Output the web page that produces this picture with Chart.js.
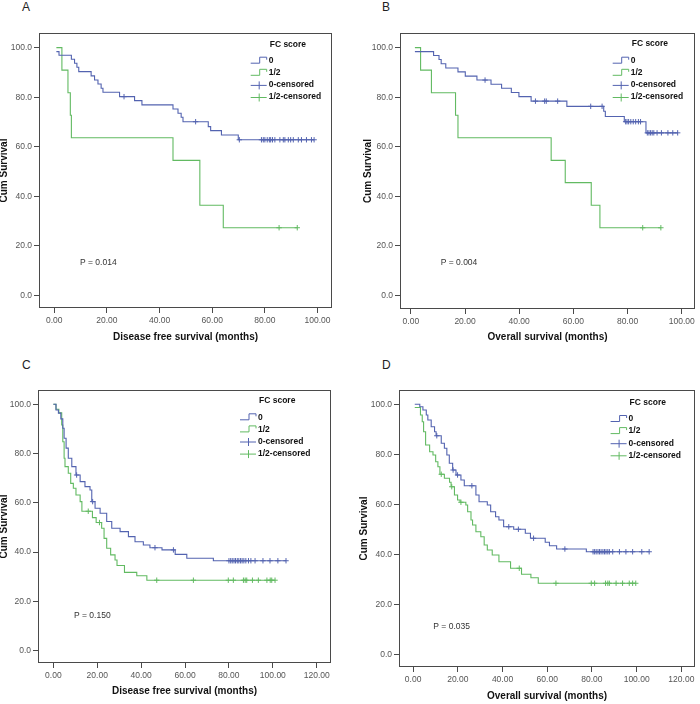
<!DOCTYPE html>
<html>
<head>
  <script src="https://cdn.jsdelivr.net/npm/chart.js@4"></script>
  <style>
    body { margin: 0; background: #fff; }
    #wrap { position: relative; width: 700px; height: 704px; overflow: hidden; background: #fff; }
    canvas { position: absolute; }
    .tag { position: absolute; font: 12px 'Liberation Sans', Arial, sans-serif; line-height: 1; color: #222; }
  </style>
</head>
<body>
<div id="wrap">
  <div class="tag" style="left:22px;top:1px">A</div>
  <div class="tag" style="left:382px;top:1px">B</div>
  <div class="tag" style="left:22px;top:359px">C</div>
  <div class="tag" style="left:382px;top:359px">D</div>
  <canvas id="chartA" style="left:0;top:0" width="350" height="350"></canvas>
  <canvas id="chartB" style="left:350px;top:0" width="350" height="350"></canvas>
  <canvas id="chartC" style="left:0;top:350px" width="350" height="354"></canvas>
  <canvas id="chartD" style="left:350px;top:350px" width="350" height="354"></canvas>
</div>

<script>
  // Data: event times (months) and cumulative survival (%) after each event,
  // plus censored times, for FC score 0 and FC score 1/2

  // Panel A - disease free survival
  var aTimes0 = [0.8, 1.8, 6.5, 7.7, 8.6, 9.3, 14.0, 15.3, 16.6, 17.8, 18.5, 24.8, 30.5, 33.3, 45.1, 47.0, 48.2, 48.9, 58.5, 59.4, 63.5, 69.9];
  var aSurv0 = [98.4, 96.9, 95.3, 93.7, 92.1, 90.3, 88.6, 86.9, 85.3, 83.6, 82.0, 80.2, 78.6, 76.9, 75.2, 73.5, 71.9, 70.1, 68.1, 66.5, 64.7, 62.8];
  var aCens0 = [26.5, 53.7, 70.3, 78.7, 79.4, 80.0, 80.9, 81.7, 82.2, 82.9, 83.8, 85.7, 87.0, 87.6, 88.9, 89.8, 90.8, 92.7, 93.9, 95.8, 97.7, 98.7];
  var aTimes12 = [0.8, 2.9, 5.2, 6.1, 6.5, 45.1, 55.3, 64.2];
  var aSurv12 = [100, 90.9, 81.8, 72.7, 63.6, 54.5, 36.4, 27.3];
  var aCens12 = [85.4, 92.3];

  // Panel B - overall survival
  var bTimes0 = [1.5, 8.4, 10.4, 11.2, 12.9, 17.4, 20.1, 24.4, 29.6, 33.5, 37.1, 39.9, 44.4, 57.6, 71.2, 71.8, 78.8, 86.8];
  var bSurv0 = [98.4, 96.8, 95.2, 93.5, 91.8, 90.2, 88.5, 86.9, 85.2, 83.6, 81.9, 80.2, 78.4, 76.3, 74.3, 72.2, 70.1, 65.6];
  var bCens0 = [27.4, 46.0, 49.4, 50.0, 54.2, 66.4, 70.6, 79.3, 79.8, 80.4, 81.2, 82.1, 83.0, 84.0, 84.8, 87.3, 87.9, 88.5, 89.1, 89.7, 90.9, 92.5, 94.9, 96.7, 98.5];
  var bTimes12 = [1.5, 3.6, 7.6, 16.5, 17.4, 51.8, 57.0, 66.6, 69.8];
  var bSurv12 = [100, 90.9, 81.8, 72.7, 63.6, 54.5, 45.5, 36.4, 27.3];
  var bCens12 = [85.6, 92.3];

  // Panel C - disease free survival
  var cTimes0 = [0, 1.2, 2.3, 3.4, 4.3, 4.9, 5.8, 6.8, 8.4, 10.3, 12.2, 14.4, 16.7, 17.5, 19.0, 21.3, 24.3, 26.6, 30.4, 34.2, 37.2, 41.0, 44.0, 49.5, 55.5, 60.8, 72.9];
  var cSurv0 = [100, 97.7, 96.4, 94.1, 90.3, 86.2, 82.2, 78.1, 74.7, 71.3, 68.6, 66.6, 65.2, 60.5, 57.8, 55.8, 52.4, 49.7, 48.3, 46.3, 44.2, 42.9, 41.8, 40.9, 39.1, 37.5, 36.5];
  var cCens0 = [10.6, 17.9, 46.3, 54.7, 80.0, 80.8, 81.5, 82.3, 83.0, 83.8, 84.5, 85.3, 86.0, 86.8, 87.7, 88.9, 90.0, 91.9, 95.5, 98.7, 102.3, 106.0];
  var cTimes12 = [0, 1.2, 2.5, 3.8, 4.3, 4.9, 5.3, 6.8, 7.9, 9.1, 10.3, 12.2, 13.0, 17.8, 19.5, 22.0, 23.1, 24.3, 26.1, 28.1, 29.0, 32.4, 38.0, 42.6];
  var cSurv12 = [100, 98.0, 96.5, 91.6, 84.8, 78.1, 74.7, 72.0, 67.9, 65.9, 63.2, 60.5, 56.6, 54.0, 52.0, 49.7, 45.6, 41.6, 38.9, 36.8, 34.6, 31.8, 30.4, 28.6];
  var cCens12 = [15.9, 21.0, 47.1, 63.8, 79.7, 82.0, 86.6, 87.4, 88.1, 90.7, 93.4, 97.3, 98.8, 99.5, 101.0];

  // Panel D - overall survival
  var dTimes0 = [0.75, 3.0, 4.4, 5.9, 6.6, 8.1, 9.6, 10.3, 12.6, 14.0, 15.1, 16.2, 17.7, 19.2, 21.4, 22.9, 28.1, 29.5, 33.2, 34.7, 36.9, 38.4, 40.5, 45.0, 50.2, 52.5, 59.1, 61.0, 64.2, 77.5];
  var dSurv0 = [100, 99.0, 97.7, 95.7, 93.7, 91.0, 89.0, 87.4, 84.4, 82.4, 79.7, 76.4, 73.7, 71.7, 69.7, 67.4, 63.7, 61.0, 59.7, 57.0, 55.0, 53.7, 51.0, 50.0, 48.4, 46.4, 44.8, 43.4, 42.1, 41.0];
  var dCens0 = [10.6, 17.9, 19.9, 26.3, 42.8, 47.1, 53.9, 67.9, 80.5, 81.2, 81.9, 82.7, 83.4, 84.1, 84.9, 85.6, 86.3, 87.1, 87.8, 89.3, 92.3, 95.2, 98.2, 102.3, 105.6];
  var dTimes12 = [0.75, 3.3, 4.1, 4.7, 5.6, 7.4, 8.9, 10.1, 11.1, 12.0, 14.0, 16.3, 17.0, 18.5, 19.9, 21.0, 23.6, 24.4, 25.9, 26.6, 28.1, 30.3, 31.8, 33.2, 35.4, 38.4, 43.6, 48.5, 52.7, 56.0];
  var dSurv12 = [98.7, 95.7, 93.0, 89.0, 83.7, 81.0, 79.7, 77.0, 75.0, 72.0, 70.4, 68.8, 67.0, 63.7, 61.7, 60.8, 59.7, 57.0, 53.7, 51.7, 49.0, 47.0, 43.7, 41.7, 39.7, 37.0, 34.4, 32.0, 30.6, 28.4];
  var dCens12 = [12.6, 17.3, 21.4, 47.5, 63.9, 79.7, 81.2, 86.1, 87.1, 87.8, 90.8, 93.7, 96.7, 98.2, 99.6];

  // Tick values and labels
  var yTicks = [0, 20, 40, 60, 80, 100];
  var xTicksAB = [0, 20, 40, 60, 80, 100];
  var xTicksCD = [0, 20, 40, 60, 80, 100, 120];
  var legendTitle = 'FC score';
  var legendLabels = ['0', '1/2', '0-censored', '1/2-censored'];

  var BLUE = '#5363b0';
  var GREEN = '#62ba62';
  var FONT = "'Liberation Sans', Arial, sans-serif";

  // survival value of the step function at time t
  function survAt(times, surv, t) {
    var s = surv[0];
    for (var i = 0; i < times.length; i++) {
      if (times[i] <= t) s = surv[i];
    }
    return s;
  }

  function stepLine(times, surv, cens) {
    var pts = times.map(function(t, i) { return {x: t, y: surv[i]}; });
    var end = Math.max(times[times.length - 1], cens.length ? cens[cens.length - 1] : 0);
    pts.push({x: end, y: surv[surv.length - 1]});
    return pts;
  }

  function censPoints(times, surv, cens) {
    return cens.map(function(t) { return {x: t, y: survAt(times, surv, t)}; });
  }

  // frame, legend and p value
  var panelDecor = {
    id: 'panelDecor',
    afterDraw: function(chart, args, o) {
      var ctx = chart.ctx, a = chart.chartArea;
      ctx.save();
      ctx.strokeStyle = '#4a4a4a';
      ctx.lineWidth = 1;
      ctx.strokeRect(a.left + 0.5, a.top + 0.5, a.right - a.left - 1, a.bottom - a.top - 1);

      ctx.fillStyle = '#333';
      ctx.font = '8.5px ' + FONT;
      ctx.textAlign = 'left';
      ctx.textBaseline = 'middle';
      ctx.fillText(o.pText, a.left + o.pX, a.top + o.pY);

      var lx = a.right - o.legRight;
      ctx.fillStyle = '#111';
      ctx.font = 'bold 8.5px ' + FONT;
      ctx.fillText(legendTitle, lx + 19, a.top + o.legTitle);
      legendLabels.forEach(function(lab, i) {
        var y = a.top + o.legFirst + i * 12.1;
        var col = (i % 2 === 0) ? BLUE : GREEN;
        ctx.strokeStyle = col;
        ctx.lineWidth = 1;
        ctx.beginPath();
        if (i < 2) {
          ctx.moveTo(lx, y + 2.5);
          ctx.lineTo(lx + 9, y + 2.5);
          ctx.lineTo(lx + 9, y - 3.5);
          ctx.lineTo(lx + 16, y - 3.5);
          ctx.lineTo(lx + 16, y - 1);
        } else {
          ctx.moveTo(lx, y + 0.5);
          ctx.lineTo(lx + 16, y + 0.5);
          ctx.moveTo(lx + 8.5, y - 3.5);
          ctx.lineTo(lx + 8.5, y + 4.5);
        }
        ctx.stroke();
        ctx.fillStyle = '#111';
        ctx.fillText(lab, lx + 18, y);
      });
      ctx.restore();
    }
  };

  function makePanel(id, p) {
    var ctx = document.getElementById(id).getContext('2d');
    return new Chart(ctx, {
      type: 'line',
      data: {
        datasets: [
          { data: stepLine(p.t0, p.s0, p.c0), borderColor: BLUE, borderWidth: 1.1, stepped: true, pointRadius: 0 },
          { data: stepLine(p.t12, p.s12, p.c12), borderColor: GREEN, borderWidth: 1.1, stepped: true, pointRadius: 0 },
          { data: censPoints(p.t0, p.s0, p.c0), showLine: false, pointStyle: 'cross', pointRadius: 2.7,
            borderColor: BLUE, backgroundColor: BLUE, pointBorderWidth: 1 },
          { data: censPoints(p.t12, p.s12, p.c12), showLine: false, pointStyle: 'cross', pointRadius: 2.7,
            borderColor: GREEN, backgroundColor: GREEN, pointBorderWidth: 1 }
        ]
      },
      options: {
        responsive: false,
        animation: false,
        parsing: false,
        layout: { padding: { top: p.padTop, right: p.padRight, left: 0, bottom: 0 } },
        plugins: {
          legend: { display: false },
          tooltip: { enabled: false },
          panelDecor: p.decor
        },
        scales: {
          x: {
            type: 'linear',
            min: p.xMin, max: p.xMax,
            afterBuildTicks: function(s) { s.ticks = p.xTicks.map(function(v) { return {value: v}; }); },
            afterFit: function(s) { s.height = p.xH; },
            grid: { drawOnChartArea: false, drawTicks: true, tickLength: 5, color: '#4a4a4a' },
            border: { display: false },
            ticks: {
              maxRotation: 0, padding: 3, color: '#555',
              font: { family: FONT, size: 8.5 },
              callback: function(v) { return Number(v).toFixed(2); }
            },
            title: {
              display: true, text: p.xTitle, color: '#111',
              font: { family: FONT, size: 10, weight: 'bold', lineHeight: 1.2 },
              padding: { top: 0, bottom: p.xTitlePad }
            }
          },
          y: {
            type: 'linear',
            min: p.yMin, max: p.yMax,
            afterBuildTicks: function(s) { s.ticks = yTicks.map(function(v) { return {value: v}; }); },
            afterFit: function(s) { s.width = p.yW; },
            grid: { drawOnChartArea: false, drawTicks: true, tickLength: 5, color: '#4a4a4a' },
            border: { display: false },
            ticks: {
              padding: 2, color: '#555',
              font: { family: FONT, size: 8.5 },
              callback: function(v) { return Number(v).toFixed(1); }
            },
            title: {
              display: true, text: 'Cum Survival', color: '#111',
              font: { family: FONT, size: 10, weight: 'bold', lineHeight: 0.9 },
              padding: { top: p.yTitlePad, bottom: 0 }
            }
          }
        }
      },
      plugins: [panelDecor]
    });
  }

  makePanel('chartA', {
    t0: aTimes0, s0: aSurv0, c0: aCens0, t12: aTimes12, s12: aSurv12, c12: aCens12,
    xTicks: xTicksAB, xMin: -5.8, xMax: 105.5, yMin: -5.1, yMax: 105.9,
    padTop: 33, padRight: 18, yW: 39, xH: 42, xTitlePad: 7, yTitlePad: 0,
    xTitle: 'Disease free survival (months)',
    decor: { pText: 'P = 0.014', pX: 41, pY: 230, legRight: 81.3, legTitle: 12, legFirst: 27.7 }
  });

  makePanel('chartB', {
    t0: bTimes0, s0: bSurv0, c0: bCens0, t12: bTimes12, s12: bSurv12, c12: bCens12,
    xTicks: xTicksAB, xMin: -4.0, xMax: 104.9, yMin: -5.5, yMax: 105.9,
    padTop: 33, padRight: 1, yW: 50, xH: 41, xTitlePad: 7, yTitlePad: 13.5,
    xTitle: 'Overall survival (months)',
    decor: { pText: 'P = 0.004', pX: 40.7, pY: 230, legRight: 82.3, legTitle: 10.5, legFirst: 27.7 }
  });

  makePanel('chartC', {
    t0: cTimes0, s0: cSurv0, c0: cCens0, t12: cTimes12, s12: cSurv12, c12: cCens12,
    xTicks: xTicksCD, xMin: -7.0, xMax: 126.5, yMin: -5.0, yMax: 105.8,
    padTop: 40, padRight: 19, yW: 38, xH: 41, xTitlePad: 7, yTitlePad: 0,
    xTitle: 'Disease free survival (months)',
    decor: { pText: 'P = 0.150', pX: 36, pY: 226, legRight: 91, legTitle: 11, legFirst: 27.3 }
  });

  makePanel('chartD', {
    t0: dTimes0, s0: dSurv0, c0: dCens0, t12: dTimes12, s12: dSurv12, c12: dCens12,
    xTicks: xTicksCD, xMin: -6.3, xMax: 126.1, yMin: -5.1, yMax: 105.7,
    padTop: 40, padRight: 2, yW: 49, xH: 37, xTitlePad: 2, yTitlePad: 9.5,
    xTitle: 'Overall survival (months)',
    decor: { pText: 'P = 0.035', pX: 34.3, pY: 236.7, legRight: 84.4, legTitle: 12.3, legFirst: 29 }
  });
</script>
</body>
</html>
